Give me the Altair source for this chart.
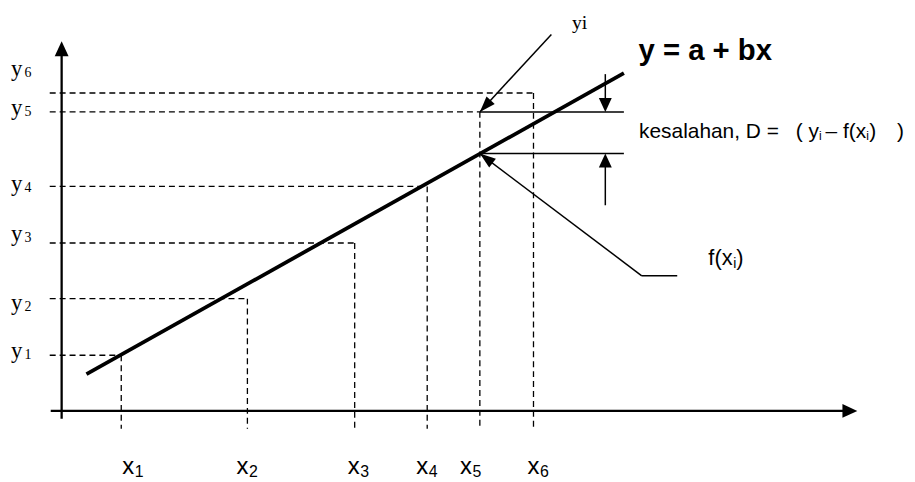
import altair as alt
import pandas as pd

# ---------------- data (diagram units) ----------------
x_vals = [6.0, 18.7, 29.5, 36.8, 42.1, 47.5]        # x1 .. x6
y_vals = [5.6, 11.3, 16.9, 22.6, 30.1, 32.0]        # y1 .. y6
sub_names = ["1", "2", "3", "4", "5", "6"]
fit_x = [2.5, 56.6]                                 # fitted line y = a + bx (end points)
fit_y = [3.7, 34.0]
f_x5 = 25.9                                         # f(x5) on the fitted line
x_label_pos = [6.1, 17.6, 28.8, 35.7, 40.1, 46.9]   # left edge of tick labels
y_label_pos = [5.35, 10.15, 17.15, 22.15, 29.83, 33.76]

# ---------------- layout ----------------
W, H = 905, 472
X_MIN, Y_MAX = -5.4, 40.4
X_MAX = X_MIN + W / 10.0
Y_MIN = Y_MAX - H / 10.0
xs = alt.Scale(domain=[X_MIN, X_MAX], nice=False, zero=False)
ys = alt.Scale(domain=[Y_MIN, Y_MAX], nice=False, zero=False)

SERIF = "Liberation Serif, Times New Roman, serif"
SANS = "Liberation Sans, Arial, sans-serif"


def seg_layer(rows, **kw):
    df = pd.DataFrame(rows, columns=["x", "y", "x2", "y2"])
    return alt.Chart(df).mark_rule(color="black", **kw).encode(
        x=alt.X("x:Q", scale=xs, axis=None),
        y=alt.Y("y:Q", scale=ys, axis=None),
        x2="x2:Q", y2="y2:Q")


def arrow_layer(rows, shape, size):
    df = pd.DataFrame(rows, columns=["x", "y", "ang"])
    return alt.Chart(df).mark_point(shape=shape, size=size, filled=True,
                                    color="black", opacity=1, strokeWidth=0).encode(
        x=alt.X("x:Q", scale=xs, axis=None),
        y=alt.Y("y:Q", scale=ys, axis=None),
        angle=alt.Angle("ang:Q", scale=None))


def text_layer(rows, font, weight="normal"):
    df = pd.DataFrame(rows, columns=["t", "x", "y", "fs"])
    return alt.Chart(df).mark_text(font=font, fontWeight=weight, align="left",
                                   baseline="alphabetic", color="black").encode(
        x=alt.X("x:Q", scale=xs, axis=None),
        y=alt.Y("y:Q", scale=ys, axis=None),
        text="t:N",
        size=alt.Size("fs:Q", scale=None))


# axes
axes = seg_layer([[0, -0.8, 0, 36.0], [-1.1, 0, 78.8, 0]], strokeWidth=2.3)

# dashed guides
dash_rows = []
for xv, yv in zip(x_vals, y_vals):
    dash_rows.append([-1.2, yv, xv, yv])
    dash_rows.append([xv, yv, xv, -1.8])
dashed = seg_layer(dash_rows, strokeWidth=1.3, strokeDash=[6, 4])

# fitted line
fit = seg_layer([[fit_x[0], fit_y[0], fit_x[1], fit_y[1]]], strokeWidth=3.8)

# thin annotation lines
x5, y5 = x_vals[4], y_vals[4]
thin = seg_layer([
    [49.3, 37.9, x5, y5],                 # yi leader
    [x5, f_x5, 58.4, 13.6],               # f(xi) leader
    [58.4, 13.6, 61.97, 13.6],
    [x5, y5, 56.6, y5],                   # yi level
    [x5, f_x5, 56.6, f_x5],               # f(xi) level
    [54.73, 33.9, 54.73, y5 + 1.0],       # error arrow (upper)
    [54.73, f_x5 - 1.0, 54.73, 20.7],     # error arrow (lower)
], strokeWidth=1.5)

HEAD_WIDE = "M0,0L0.93,2L-0.93,2Z"
HEAD_NARROW = "M0,0L0.7,2L-0.7,2Z"
axis_heads = arrow_layer([[0, 37.2, 0], [80.1, 0, 90]], HEAD_WIDE, 225)
lead_heads = arrow_layer([[x5, y5, 222.7], [x5, f_x5, 307]], HEAD_NARROW, 256)
err_heads = arrow_layer([[54.73, y5, 180], [54.73, f_x5, 0]], HEAD_WIDE, 196)

# texts
serif_rows = []
for n, ly in zip(sub_names, y_label_pos):
    serif_rows.append(["y", -5.1, ly, 23])
    serif_rows.append([n, -3.75, ly - 0.13, 14])
serif_rows.append(["yi", 51.37, 38.4, 20])
serif_txt = text_layer(serif_rows, SERIF)

sans_rows = []
for n, lx in zip(sub_names, x_label_pos):
    sans_rows.append(["x", lx, -6.4, 24])
    sans_rows.append([n, lx + 1.25, -6.7, 16])
sans_rows += [
    ["kesalahan, D =", 58.13, 27.5, 21],
    ["( y", 73.9, 27.5, 21],
    ["i", 76.25, 27.3, 12],
    ["\u2013 f(x", 76.9, 27.5, 21],
    ["i", 81.0, 27.3, 12],
    [")", 81.3, 27.5, 21],
    [")", 84.1, 27.5, 21],
    ["f(x", 65.1, 14.7, 22],
    ["i", 67.6, 14.4, 14],
    [")", 67.9, 14.7, 22],
]
sans_txt = text_layer(sans_rows, SANS)
bold_txt = text_layer([["y = a + bx", 58.07, 35.37, 29.5]], SANS, "bold")

chart = alt.layer(
    dashed, axes, fit, thin, axis_heads, lead_heads, err_heads,
    serif_txt, sans_txt, bold_txt
).properties(
    width=W, height=H, padding=0,
    autosize=alt.AutoSizeParams(type="none"),
    background="white"
).configure_view(stroke=None)

chart.save("out.html", embed_options={"renderer": "svg", "actions": False})
